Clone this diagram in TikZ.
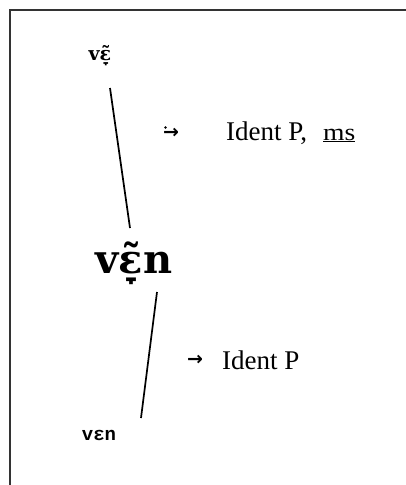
\documentclass[tikz,border=0pt]{standalone}
\usepackage{fontspec}
\setmainfont{Liberation Serif}
\newfontfamily\ipafont{DejaVu Serif}
\newfontfamily\monofont{Liberation Mono}
\newfontfamily\symfont{DejaVu Sans}
\begin{document}
\begin{tikzpicture}[x=1pt,y=1pt,
  frame/.style={line width=2pt, black!80},
  link/.style={line width=1.7pt, black},
  lbl/.style={inner sep=0pt, anchor=base west, font=\fontsize{27}{27}\selectfont},
  arr/.style={inner sep=0pt, font=\symfont\fontsize{19}{19}\selectfont\bfseries}]
\useasboundingbox (0,0) rectangle (406,-485);
\draw[frame] (10,-490) -- (10,-10) -- (410,-10);
\node[inner sep=0pt, anchor=base, font=\ipafont\fontsize{19}{19}\selectfont\bfseries] (top) at (100,-60) {vɛ̞̃};
\node[inner sep=0pt, anchor=base, font=\ipafont\fontsize{40}{40}\selectfont\bfseries] (mid) at (134,-273) {vɛ̞̃n};
\node[inner sep=0pt, anchor=base, font=\monofont\fontsize{19}{19}\selectfont\bfseries] (bot) at (99,-440) {vɛn};
\coordinate (l1a) at (110,-88);
\coordinate (l1b) at (130,-228);
\coordinate (l2a) at (157,-292);
\coordinate (l2b) at (141,-418);
\draw[link] (l1a) -- (l1b);
\draw[link] (l2a) -- (l2b);
\node[arr] (a1) at (171,-133) {→};
\fill (165.5,-127.5) circle (1.3pt);
\node[lbl] (t1) at (226,-140) {Ident P,\hspace{16pt}\scalebox{1.15}[1]{\fontsize{24}{24}\selectfont\underline{ms}}};
\node[arr] (a2) at (195,-360) {→};
\node[lbl] (t2) at (222,-369) {Ident P};
\end{tikzpicture}
\end{document}
